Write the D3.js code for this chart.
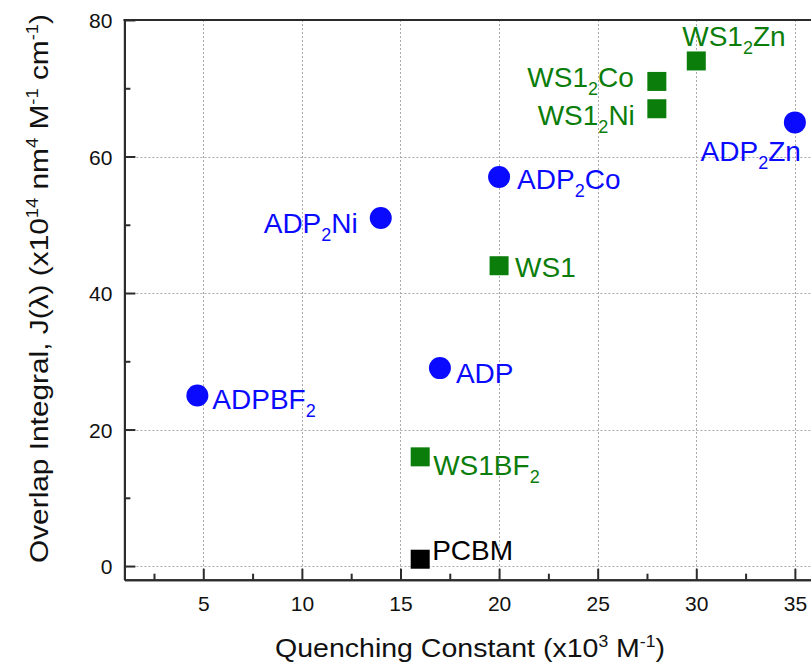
<!DOCTYPE html>
<html>
<head>
<meta charset="utf-8">
<script src="https://cdn.jsdelivr.net/npm/d3@7"></script>
<style>
  html, body { margin: 0; padding: 0; background: #fff; }
  svg { display: block; font-family: "Liberation Sans", Arial, Helvetica, sans-serif; }
</style>
</head>
<body>
<svg id="chart" width="811" height="665"></svg>
<script>
// ---- data ----
const adpNames = ["ADPBF_2", "ADP", "ADP_2Ni", "ADP_2Co", "ADP_2Zn"];
const adpX = [4.7, 17, 14, 20, 35];
const adpY = [25, 29, 51, 57, 65];

const ws1Names = ["WS1BF_2", "WS1", "WS1_2Ni", "WS1_2Co", "WS1_2Zn"];
const ws1X = [16, 20, 28, 28, 30];
const ws1Y = [16, 44, 67, 71, 74];

const pcbmNames = ["PCBM"];
const pcbmX = [16];
const pcbmY = [1];

const xMajorTicks = [5, 10, 15, 20, 25, 30, 35];
const xMinorTicks = [2.5, 7.5, 12.5, 17.5, 22.5, 27.5, 32.5];
const yMajorTicks = [0, 20, 40, 60, 80];
const yMinorTicks = [10, 30, 50, 70];

// ---- layout (label placement relative to marker: dx, dy, anchor) ----
const adpLabelPos = [[15, 14, "start"], [16, 15, "start"], [-23, 15, "end"], [18, 12, "start"], [6, 39, "end"]];
const ws1LabelPos = [[13, 18, "start"], [16, 11, "start"], [-22, 16, "end"], [-23, 6, "end"], [-14, -15, "start"]];
const pcbmLabelPos = [[12, 1, "start"]];

const BLUE = "#0a0aff", GREEN = "#0b7d0b", BLACK = "#000";
const AX = "#2b2b2b";

const svg = d3.select("#chart");
const x = d3.scaleLinear().domain([1, 36]).range([124.4, 814.6]);
const y = d3.scaleLinear().domain([-2, 80]).range([579.7, 20]);

// grid
const grid = svg.append("g").attr("stroke", "#aaa").attr("stroke-width", 1).attr("stroke-dasharray", "2,2");
grid.selectAll("line.vx").data(xMajorTicks).join("line")
  .attr("x1", d => Math.round(x(d)) + 0.5).attr("x2", d => Math.round(x(d)) + 0.5)
  .attr("y1", y(80)).attr("y2", y(-2));
grid.selectAll("line.hy").data(yMajorTicks.filter(d => d < 80)).join("line")
  .attr("y1", d => Math.round(y(d)) + 0.5).attr("y2", d => Math.round(y(d)) + 0.5)
  .attr("x1", x(1)).attr("x2", x(36));

// axes
const xAxis = svg.append("g").attr("transform", `translate(0,${y(-2)})`)
  .call(d3.axisBottom(x).tickValues(xMajorTicks).tickSize(-11).tickSizeOuter(0).tickPadding(16).tickFormat(d3.format("d")));
const xAxisMinor = svg.append("g").attr("transform", `translate(0,${y(-2)})`)
  .call(d3.axisBottom(x).tickValues(xMinorTicks).tickSize(-6).tickSizeOuter(0).tickFormat(""));
const yAxis = svg.append("g").attr("transform", `translate(${x(1)},0)`)
  .call(d3.axisLeft(y).tickValues(yMajorTicks).tickSize(-11).tickSizeOuter(0).tickPadding(12).tickFormat(d3.format("d")));
const yAxisMinor = svg.append("g").attr("transform", `translate(${x(1)},0)`)
  .call(d3.axisLeft(y).tickValues(yMinorTicks).tickSize(-6).tickSizeOuter(0).tickFormat(""));

[xAxis, xAxisMinor, yAxis, yAxisMinor].forEach(g => {
  g.select(".domain").attr("stroke", AX).attr("stroke-width", 2);
  g.selectAll(".tick line").attr("stroke", AX).attr("stroke-width", 2);
  g.selectAll(".tick text").attr("fill", "#111").attr("font-size", 21)
    .attr("font-family", "'Liberation Sans', Arial, sans-serif");
});
xAxis.selectAll(".tick text").attr("dy", "0.72em");
yAxis.selectAll(".tick text").attr("dy", "0.36em");

// top frame
svg.append("line").attr("x1", x(1) - 1).attr("x2", x(36)).attr("y1", y(80)).attr("y2", y(80))
  .attr("stroke", AX).attr("stroke-width", 2);

// markers
function drawLabel(g, name, px, py, pos, color) {
  const t = g.append("text").attr("x", px + pos[0]).attr("y", py + pos[1])
    .attr("text-anchor", pos[2]).attr("fill", color).attr("font-size", 28);
  const parts = name.split(/_(\d)/);
  parts.forEach((p, i) => {
    if (!p) return;
    if (i % 2 === 1) {
      t.append("tspan").attr("font-size", 18).attr("dy", 8).text(p);
    } else {
      const s = t.append("tspan").text(p);
      if (i > 0) s.attr("dy", -8);
    }
  });
}

const marks = svg.append("g");
adpNames.forEach((n, i) => {
  marks.append("circle").attr("cx", x(adpX[i])).attr("cy", y(adpY[i])).attr("r", 11).attr("fill", BLUE);
  drawLabel(marks, n, x(adpX[i]), y(adpY[i]), adpLabelPos[i], BLUE);
});
const S = 19;
ws1Names.forEach((n, i) => {
  marks.append("rect").attr("x", x(ws1X[i]) - S / 2).attr("y", y(ws1Y[i]) - S / 2)
    .attr("width", S).attr("height", S).attr("fill", GREEN);
  drawLabel(marks, n, x(ws1X[i]), y(ws1Y[i]), ws1LabelPos[i], GREEN);
});
pcbmNames.forEach((n, i) => {
  marks.append("rect").attr("x", x(pcbmX[i]) - S / 2).attr("y", y(pcbmY[i]) - S / 2)
    .attr("width", S).attr("height", S).attr("fill", BLACK);
  drawLabel(marks, n, x(pcbmX[i]), y(pcbmY[i]), pcbmLabelPos[i], BLACK);
});

// axis titles
const xt = svg.append("text").attr("x", 470).attr("y", 657).attr("text-anchor", "middle")
  .attr("font-size", 26).attr("fill", "#111")
  .attr("textLength", 390).attr("lengthAdjust", "spacingAndGlyphs");
xt.append("tspan").text("Quenching Constant (x10");
xt.append("tspan").attr("font-size", 16).attr("dy", -10).text("3");
xt.append("tspan").attr("dy", 10).text(" M");
xt.append("tspan").attr("font-size", 16).attr("dy", -10).text("-1");
xt.append("tspan").attr("dy", 10).text(")");

const yt = svg.append("text").attr("transform", "translate(48.3,288.5) rotate(-90)")
  .attr("text-anchor", "middle").attr("font-size", 26).attr("fill", "#111")
  .attr("textLength", 549).attr("lengthAdjust", "spacingAndGlyphs");
yt.append("tspan").text("Overlap Integral, J(λ) (x10");
yt.append("tspan").attr("font-size", 16).attr("dy", -10).text("14");
yt.append("tspan").attr("dy", 10).text(" nm");
yt.append("tspan").attr("font-size", 16).attr("dy", -10).text("4");
yt.append("tspan").attr("dy", 10).text(" M");
yt.append("tspan").attr("font-size", 16).attr("dy", -10).text("-1");
yt.append("tspan").attr("dy", 10).text(" cm");
yt.append("tspan").attr("font-size", 16).attr("dy", -10).text("-1");
yt.append("tspan").attr("dy", 10).text(")");
</script>
</body>
</html>
